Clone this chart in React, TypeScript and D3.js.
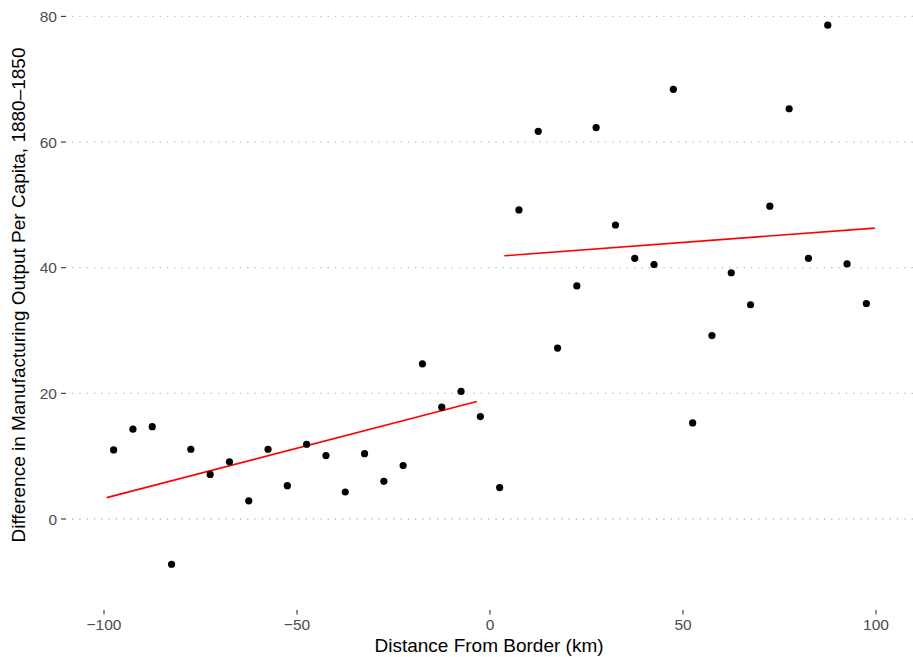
import React from "react";
import * as d3 from "d3";

// Binned distance from the border (km), 5 km bins
const distance: number[] = [
  -97.5, -92.5, -87.5, -82.5, -77.5, -72.5, -67.5, -62.5, -57.5, -52.5,
  -47.5, -42.5, -37.5, -32.5, -27.5, -22.5, -17.5, -12.5, -7.5, -2.5,
  2.5, 7.5, 12.5, 17.5, 22.5, 27.5, 32.5, 37.5, 42.5, 47.5,
  52.5, 57.5, 62.5, 67.5, 72.5, 77.5, 82.5, 87.5, 92.5, 97.5,
];

// Difference in manufacturing output per capita, 1880–1850
const outputDiff: number[] = [
  11.0, 14.3, 14.7, -7.2, 11.1, 7.1, 9.1, 2.9, 11.1, 5.3,
  11.9, 10.1, 4.3, 10.4, 6.0, 8.5, 24.7, 17.8, 20.3, 16.3,
  5.0, 49.2, 61.7, 27.2, 37.1, 62.3, 46.8, 41.5, 40.5, 68.4,
  15.3, 29.2, 39.2, 34.1, 49.8, 65.3, 41.5, 78.6, 40.6, 34.3,
];

// Fitted lines on each side of the border: [x0, y0, x1, y1]
const fitLeft: number[] = [-99.3, 3.4, -3.4, 18.7];
const fitRight: number[] = [3.7, 41.9, 99.7, 46.3];

const xTicks: number[] = [-100, -50, 0, 50, 100];
const yTicks: number[] = [0, 20, 40, 60, 80];

const W = 913;
const H = 657;
const FONT = "'Liberation Sans', Arial, Helvetica, sans-serif";

export default function App() {
  const x = d3.scaleLinear().domain([-100, 100]).range([104, 876]);
  const y = d3.scaleLinear().domain([0, 80]).range([519, 16.4]);

  const panelLeft = 67;
  const panelRight = 913;
  const panelBottom = 610;

  const line = d3
    .line<[number, number]>()
    .x((d) => x(d[0]))
    .y((d) => y(d[1]));

  const fits = [fitLeft, fitRight].map((f) =>
    line([
      [f[0], f[1]],
      [f[2], f[3]],
    ])
  );

  return (
    <svg
      width={W}
      height={H}
      style={{ position: "absolute", left: 0, top: 0, background: "#fff" }}
      fontFamily={FONT}
    >
      {/* horizontal dotted grid */}
      {yTicks.map((t) => (
        <line
          key={"g" + t}
          x1={panelLeft}
          x2={panelRight}
          y1={y(t)}
          y2={y(t)}
          stroke="#bdbdbd"
          strokeWidth={1.3}
          strokeDasharray="1.3 6"
          strokeDashoffset={-5}
        />
      ))}

      {/* y axis ticks and labels */}
      {yTicks.map((t) => (
        <g key={"y" + t}>
          <line x1={61} x2={66} y1={y(t)} y2={y(t)} stroke="#333" strokeWidth={1.1} />
          <text
            x={57}
            y={y(t)}
            dy="0.36em"
            textAnchor="end"
            fontSize={15.5}
            fill="#4d4d4d"
          >
            {t}
          </text>
        </g>
      ))}

      {/* x axis ticks and labels */}
      {xTicks.map((t) => (
        <g key={"x" + t}>
          <line
            x1={x(t)}
            x2={x(t)}
            y1={panelBottom}
            y2={panelBottom + 4.5}
            stroke="#333"
            strokeWidth={1.1}
          />
          <text
            x={x(t)}
            y={630}
            textAnchor="middle"
            fontSize={15.5}
            fill="#4d4d4d"
          >
            {t < 0 ? "\u2212" + Math.abs(t) : t}
          </text>
        </g>
      ))}

      {/* fitted lines */}
      {fits.map((d, i) => (
        <path key={"f" + i} d={d ?? ""} fill="none" stroke="#ff0000" strokeWidth={1.6} />
      ))}

      {/* points */}
      {distance.map((d, i) => (
        <circle key={"p" + i} cx={x(d)} cy={y(outputDiff[i])} r={3.6} fill="#000" />
      ))}

      {/* axis titles */}
      <text x={489} y={652} textAnchor="middle" fontSize={19} fill="#000">
        Distance From Border (km)
      </text>
      <text
        transform="translate(25,295) rotate(-90)"
        textAnchor="middle"
        fontSize={19}
        fill="#000"
      >
        Difference in Manufacturing Output Per Capita, 1880–1850
      </text>
    </svg>
  );
}
